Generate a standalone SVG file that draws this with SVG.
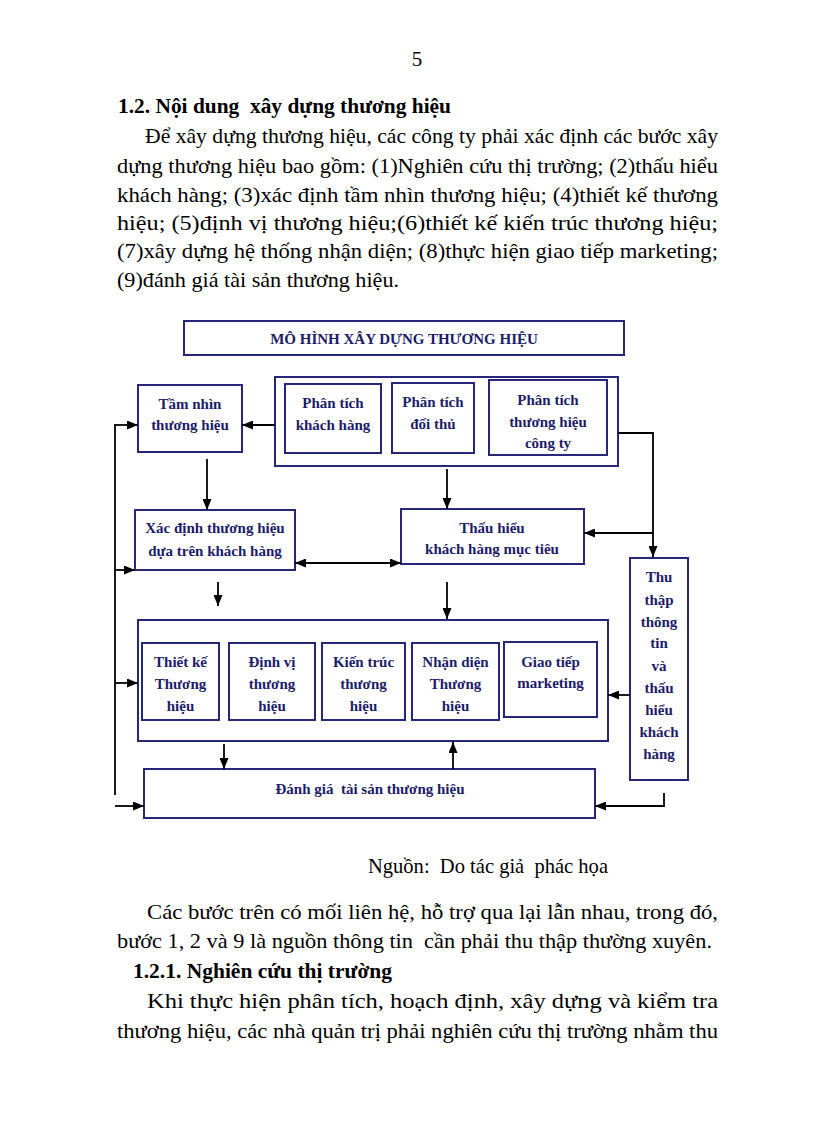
<svg xmlns="http://www.w3.org/2000/svg" width="816" height="1123" viewBox="0 0 816 1123" xml:space="preserve">
<style>
text{white-space:pre}
.body{font-family:"Liberation Serif","Times New Roman",serif;font-size:21px;fill:#000}
.bh{font-family:"Liberation Serif","Times New Roman",serif;font-size:21px;font-weight:bold;fill:#000}
.box{fill:#fff;stroke:#26267a;stroke-width:2}
.lbl{font-family:"Liberation Serif","Times New Roman",serif;font-size:15px;font-weight:bold;fill:#1c1c6a;text-anchor:middle}
.con{fill:none;stroke:#000;stroke-width:1.8}
</style>
<defs>
<marker id="ah" markerUnits="userSpaceOnUse" markerWidth="11" markerHeight="9" refX="11" refY="4.5" orient="auto-start-reverse">
<path d="M0,0 L11,4.5 L0,9 z" fill="#000"/>
</marker>
</defs>
<rect width="816" height="1123" fill="#fff"/>

<g id="page-text">
<text class="body" x="417" y="66" text-anchor="middle" font-size="17">5</text>
<text class="bh" x="118" y="113" textLength="333" lengthAdjust="spacingAndGlyphs">1.2. Nội dung  xây dựng thương hiệu</text>
<text class="body" x="145" y="143" textLength="573" lengthAdjust="spacingAndGlyphs">Để xây dựng thương hiệu, các công ty phải xác định các bước xây</text>
<text class="body" x="117" y="173" textLength="601" lengthAdjust="spacingAndGlyphs">dựng thương hiệu bao gồm: (1)Nghiên cứu thị trường; (2)thấu hiểu</text>
<text class="body" x="117" y="202" textLength="601" lengthAdjust="spacingAndGlyphs">khách hàng; (3)xác định tầm nhìn thương hiệu; (4)thiết kế thương</text>
<text class="body" x="117" y="230" textLength="601" lengthAdjust="spacingAndGlyphs">hiệu; (5)định vị thương hiệu;(6)thiết kế kiến trúc thương hiệu;</text>
<text class="body" x="117" y="258" textLength="601" lengthAdjust="spacingAndGlyphs">(7)xây dựng hệ thống nhận diện; (8)thực hiện giao tiếp marketing;</text>
<text class="body" x="117" y="287" textLength="282" lengthAdjust="spacingAndGlyphs">(9)đánh giá tài sản thương hiệu.</text>
<text class="body" x="368" y="873" textLength="240" lengthAdjust="spacingAndGlyphs">Nguồn:  Do tác giả  phác họa</text>
<text class="body" x="147" y="919" textLength="571" lengthAdjust="spacingAndGlyphs">Các bước trên có mối liên hệ, hỗ trợ qua lại lẫn nhau, trong đó,</text>
<text class="body" x="117" y="948" textLength="595" lengthAdjust="spacingAndGlyphs">bước 1, 2 và 9 là nguồn thông tin  cần phải thu thập thường xuyên.</text>
<text class="bh" x="133" y="978" textLength="259" lengthAdjust="spacingAndGlyphs">1.2.1. Nghiên cứu thị trường</text>
<text class="body" x="147" y="1008" textLength="571" lengthAdjust="spacingAndGlyphs">Khi thực hiện phân tích, hoạch định, xây dựng và kiểm tra</text>
<text class="body" x="117" y="1038" textLength="601" lengthAdjust="spacingAndGlyphs">thương hiệu, các nhà quản trị phải nghiên cứu thị trường nhằm thu</text>
</g>

<g id="title">
<rect class="box" x="184" y="321" width="440" height="34"/>
<text class="lbl" x="404" y="344" font-size="14">MÔ HÌNH XÂY DỰNG THƯƠNG HIỆU</text>
</g>

<g id="analysis-group">
<rect class="box" x="275" y="377" width="343" height="89" stroke-width="2.5"/>
</g>
<g id="phan-tich-khach-hang">
<rect class="box" x="285" y="384" width="96" height="69"/>
<text class="lbl" x="333" y="408">Phân tích</text>
<text class="lbl" x="333" y="430">khách hàng</text>
</g>
<g id="phan-tich-doi-thu">
<rect class="box" x="392" y="383" width="82" height="70"/>
<text class="lbl" x="433" y="407">Phân tích</text>
<text class="lbl" x="433" y="429">đối thủ</text>
</g>
<g id="phan-tich-thuong-hieu">
<rect class="box" x="489" y="380" width="118" height="75"/>
<text class="lbl" x="548" y="405">Phân tích</text>
<text class="lbl" x="548" y="427">thương hiệu</text>
<text class="lbl" x="548" y="448">công ty</text>
</g>

<g id="tam-nhin">
<rect class="box" x="138" y="385" width="104" height="67"/>
<text class="lbl" x="190" y="409">Tầm nhìn</text>
<text class="lbl" x="190" y="430">thương hiệu</text>
</g>

<g id="xac-dinh">
<rect class="box" x="135" y="510" width="160" height="60"/>
<text class="lbl" x="215" y="533">Xác định thương hiệu</text>
<text class="lbl" x="215" y="556">dựa trên khách hàng</text>
</g>

<g id="thau-hieu">
<rect class="box" x="401" y="509" width="183" height="55"/>
<text class="lbl" x="492" y="533">Thấu hiểu</text>
<text class="lbl" x="492" y="554">khách hàng mục tiêu</text>
</g>

<g id="thu-thap">
<rect class="box" x="630" y="558" width="58" height="222"/>
<text class="lbl" x="659" y="582">Thu</text>
<text class="lbl" x="659" y="605">thập</text>
<text class="lbl" x="659" y="627">thông</text>
<text class="lbl" x="659" y="648">tin</text>
<text class="lbl" x="659" y="671">và</text>
<text class="lbl" x="659" y="693">thấu</text>
<text class="lbl" x="659" y="715">hiểu</text>
<text class="lbl" x="659" y="737">khách</text>
<text class="lbl" x="659" y="759">hàng</text>
</g>

<g id="implementation-group">
<rect class="box" x="138" y="620" width="470" height="121" stroke-width="2.5"/>
</g>
<g id="thiet-ke">
<rect class="box" x="142" y="643" width="77" height="77"/>
<text class="lbl" x="180.5" y="667">Thiết kế</text>
<text class="lbl" x="180.5" y="689">Thương</text>
<text class="lbl" x="180.5" y="711">hiệu</text>
</g>
<g id="dinh-vi">
<rect class="box" x="229" y="643" width="86" height="77"/>
<text class="lbl" x="272" y="667">Định vị</text>
<text class="lbl" x="272" y="689">thương</text>
<text class="lbl" x="272" y="711">hiệu</text>
</g>
<g id="kien-truc">
<rect class="box" x="322" y="643" width="83" height="77"/>
<text class="lbl" x="363.5" y="667">Kiến trúc</text>
<text class="lbl" x="363.5" y="689">thương</text>
<text class="lbl" x="363.5" y="711">hiệu</text>
</g>
<g id="nhan-dien">
<rect class="box" x="412" y="643" width="87" height="77"/>
<text class="lbl" x="455.5" y="667">Nhận diện</text>
<text class="lbl" x="455.5" y="689">Thương</text>
<text class="lbl" x="455.5" y="711">hiệu</text>
</g>
<g id="giao-tiep">
<rect class="box" x="504" y="642" width="93" height="75"/>
<text class="lbl" x="550.5" y="667">Giao tiếp</text>
<text class="lbl" x="550.5" y="688">marketing</text>
</g>

<g id="danh-gia">
<rect class="box" x="144" y="769" width="451" height="49"/>
<text class="lbl" x="370" y="794">Đánh giá  tài sản thương hiệu</text>
</g>

<g id="connectors">
<path class="con" d="M275,425 H242" marker-end="url(#ah)"/>
<path class="con" d="M447,469 V509" marker-end="url(#ah)"/>
<path class="con" d="M618,433 H653 V557" marker-end="url(#ah)"/>
<path class="con" d="M653,533 H584" marker-end="url(#ah)"/>
<path class="con" d="M207,459 V510" marker-end="url(#ah)"/>
<path class="con" d="M295,563 H401" marker-start="url(#ah)" marker-end="url(#ah)"/>
<path class="con" d="M218,582 V606" marker-end="url(#ah)"/>
<path class="con" d="M447,582 V619" marker-end="url(#ah)"/>
<path class="con" d="M224,744 V769" marker-end="url(#ah)"/>
<path class="con" d="M453,769 V742" marker-end="url(#ah)"/>
<path class="con" d="M630,695 H608" marker-end="url(#ah)"/>
<path class="con" d="M664,793 V806 H595" marker-end="url(#ah)"/>
<path class="con" d="M115,424 V795"/>
<path class="con" d="M115,425 H138" marker-end="url(#ah)"/>
<path class="con" d="M115,570 H135" marker-end="url(#ah)"/>
<path class="con" d="M115,683 H138" marker-end="url(#ah)"/>
<path class="con" d="M115,806 H144" marker-end="url(#ah)"/>
</g>
</svg>
